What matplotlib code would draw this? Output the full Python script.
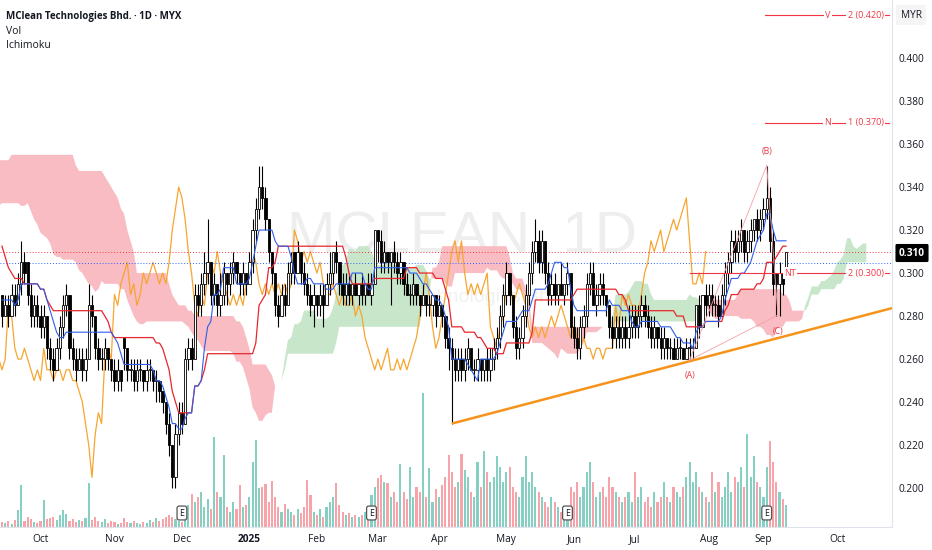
import numpy as np
import matplotlib
matplotlib.use("Agg")
import matplotlib.pyplot as plt
from matplotlib.transforms import blended_transform_factory

plt.rcParams['font.family'] = ['Open Sans', 'DejaVu Sans']

# ---------------- data (prices in thousandths of MYR) ----------------
# bars before the visible window (only highs / lows are needed for the Ichimoku cloud)
pre_high = [320, 315, 310, 305, 300, 295, 300, 305, 310, 315, 320, 325, 320, 315, 320, 325, 330, 325, 320, 325, 330,
            340, 355, 370, 390, 410, 430, 415, 400, 390, 380,
            370, 375, 390, 405, 420, 415,
            410, 405, 400, 395, 390, 385, 380, 375,
            370,
            345, 330, 320, 315, 310, 315, 310, 305, 310,
            350, 340, 330, 325, 320, 315, 320,
            315, 315, 310, 315, 310, 305, 310, 315, 310, 305,
            300, 300, 295, 300, 295, 290, 295, 290]
pre_low = [300, 295, 290, 285, 280, 280, 275, 285, 290, 295, 300, 305, 300, 295, 300, 305, 310, 305, 300, 305, 310,
           320, 335, 350, 365, 385, 400, 390, 375, 365, 355,
           350, 355, 365, 380, 395, 385,
           380, 370, 365, 360, 355, 350, 345, 340,
           340,
           320, 295, 290, 285, 280, 285, 280, 280, 285,
           325, 315, 305, 300, 300, 295, 300,
           300, 300, 295, 300, 295, 290, 295, 300, 295, 290,
           285, 285, 280, 285, 280, 280, 280, 275]

opens = [290, 280, 285, 280, 290, 285, 295, 305, 305, 290,
         280, 285, 280, 275, 280, 265, 260, 255, 265, 275,
         285, 290, 265, 260, 255, 260, 255, 260, 285, 280,
         265, 260, 260, 265, 260, 255, 250, 255, 270, 265,
         255, 255, 250, 255, 255, 250, 255, 255, 250, 250,
         245, 240, 230, 220, 205, 225, 235, 230, 260, 265,
         260, 290, 285, 295, 300, 305, 290, 295, 285, 290,
         300, 295, 300, 305, 300, 295, 300, 295, 305, 320,
         330, 340, 335, 325, 310, 300, 285, 280, 290, 285,
         300, 310, 300, 310, 300, 295, 290, 285, 290, 285,
         290, 285, 295, 300, 310, 305, 295, 290, 295, 290,
         295, 290, 295, 290, 295, 290, 295, 320, 315, 305,
         310, 305, 310, 305, 300, 305, 295, 290, 290, 295,
         290, 285, 290, 285, 285, 290, 280, 285, 280, 270,
         265, 260, 255, 260, 255, 260, 265, 255, 255, 260,
         255, 260, 255, 260, 265, 270, 280, 290, 300, 290,
         275, 265, 270, 280, 290, 300, 310, 315, 305, 315,
         300, 290, 295, 290, 295, 290, 295, 300, 275, 270,
         265, 275, 280, 295, 300, 285, 290, 295, 290, 285,
         275, 270, 275, 270, 275, 270, 275, 280, 275, 280,
         285, 280, 275, 270, 275, 270, 265, 270, 265, 265,
         260, 265, 265, 260, 265, 265, 265, 285, 275, 290,
         285, 290, 285, 285, 280, 290, 300, 305, 315, 310,
         315, 320, 310, 315, 320, 325, 320, 325, 330, 335,
         315, 300, 295, 300, 300]
highs = [290, 290, 290, 295, 295, 300, 315, 310, 305, 295,
         290, 290, 285, 285, 280, 270, 265, 270, 280, 290,
         295, 290, 270, 265, 265, 265, 265, 295, 290, 280,
         270, 265, 270, 265, 260, 260, 260, 255, 270, 265,
         260, 260, 260, 260, 255, 260, 260, 255, 255, 250,
         245, 240, 235, 220, 230, 240, 240, 265, 270, 270,
         295, 295, 300, 310, 325, 305, 300, 295, 300, 305,
         300, 305, 310, 305, 300, 305, 300, 310, 325, 335,
         350, 350, 340, 325, 310, 300, 290, 295, 295, 305,
         310, 310, 315, 310, 305, 300, 295, 295, 290, 295,
         295, 300, 310, 310, 315, 305, 300, 300, 300, 295,
         300, 295, 300, 295, 300, 300, 320, 320, 320, 315,
         310, 310, 315, 310, 310, 305, 300, 295, 300, 295,
         290, 295, 290, 290, 290, 290, 290, 285, 280, 275,
         270, 265, 265, 265, 265, 270, 265, 260, 265, 260,
         260, 265, 265, 270, 275, 285, 295, 305, 300, 290,
         280, 275, 285, 295, 305, 315, 325, 320, 320, 315,
         305, 300, 300, 295, 305, 295, 305, 300, 280, 275,
         280, 285, 300, 305, 305, 295, 300, 300, 290, 285,
         280, 280, 280, 280, 280, 285, 285, 285, 285, 290,
         290, 285, 280, 280, 275, 275, 275, 270, 270, 270,
         270, 270, 265, 270, 270, 270, 285, 290, 290, 295,
         295, 295, 290, 290, 295, 305, 310, 320, 320, 320,
         325, 320, 320, 325, 325, 330, 330, 335, 350, 340,
         320, 300, 305, 300, 310]
lows = [275, 280, 275, 280, 280, 285, 290, 295, 285, 275,
        275, 275, 270, 270, 260, 255, 250, 255, 260, 270,
        280, 260, 255, 250, 255, 250, 250, 260, 275, 260,
        255, 255, 255, 255, 250, 245, 245, 245, 255, 250,
        250, 245, 245, 250, 245, 245, 250, 245, 240, 240,
        235, 225, 215, 200, 200, 220, 225, 230, 255, 255,
        260, 280, 280, 290, 295, 285, 285, 280, 280, 285,
        285, 290, 295, 295, 290, 290, 290, 295, 300, 315,
        325, 330, 320, 305, 295, 280, 275, 280, 280, 285,
        295, 295, 300, 295, 290, 285, 280, 275, 280, 280,
        275, 285, 290, 295, 300, 290, 285, 285, 285, 285,
        290, 285, 285, 285, 290, 285, 295, 305, 300, 300,
        300, 285, 300, 295, 295, 290, 290, 285, 285, 285,
        280, 285, 280, 280, 280, 275, 280, 275, 265, 255,
        230, 250, 250, 250, 250, 255, 255, 250, 250, 250,
        250, 250, 250, 255, 260, 265, 275, 285, 285, 270,
        260, 260, 265, 275, 285, 295, 305, 300, 300, 295,
        285, 285, 285, 285, 290, 285, 290, 270, 265, 260,
        260, 270, 275, 290, 285, 280, 285, 285, 280, 270,
        265, 265, 265, 265, 265, 265, 270, 270, 270, 275,
        275, 270, 265, 265, 265, 260, 260, 260, 260, 260,
        260, 260, 260, 260, 260, 260, 265, 270, 275, 280,
        280, 280, 280, 275, 280, 285, 295, 300, 305, 305,
        310, 305, 305, 310, 315, 315, 315, 320, 325, 310,
        290, 280, 280, 290, 300]
closes = [280, 285, 280, 290, 285, 295, 305, 300, 290, 280,
          285, 280, 275, 280, 265, 260, 255, 265, 275, 285,
          290, 265, 260, 255, 260, 255, 260, 285, 280, 265,
          260, 260, 265, 260, 255, 250, 255, 250, 265, 255,
          255, 250, 255, 255, 250, 255, 255, 250, 250, 245,
          240, 230, 220, 205, 225, 235, 230, 260, 265, 260,
          290, 285, 295, 300, 305, 290, 295, 285, 290, 300,
          295, 300, 305, 300, 295, 300, 295, 305, 320, 330,
          340, 335, 325, 310, 300, 285, 280, 290, 285, 300,
          305, 300, 310, 300, 295, 290, 285, 290, 285, 290,
          285, 295, 300, 310, 305, 295, 290, 295, 290, 295,
          290, 295, 290, 295, 290, 295, 320, 315, 305, 310,
          305, 310, 305, 300, 305, 295, 290, 290, 295, 290,
          285, 290, 285, 285, 290, 280, 285, 280, 270, 265,
          260, 255, 260, 255, 260, 265, 255, 255, 260, 255,
          260, 255, 260, 265, 270, 280, 290, 300, 290, 275,
          265, 270, 280, 290, 300, 310, 315, 305, 315, 300,
          290, 295, 290, 295, 290, 295, 300, 275, 270, 265,
          275, 280, 295, 300, 285, 290, 295, 290, 285, 275,
          270, 275, 270, 275, 270, 275, 280, 275, 280, 285,
          280, 275, 270, 275, 270, 265, 270, 265, 265, 260,
          265, 265, 260, 265, 265, 265, 285, 275, 290, 285,
          290, 285, 285, 280, 290, 300, 305, 315, 310, 315,
          320, 310, 315, 320, 325, 320, 325, 330, 335, 315,
          295, 295, 300, 295, 310]
volumes = [5, 4, 6, 3, 7, 17, 42, 6, 10, 8,
           5, 4, 6, 27, 8, 9, 10, 7, 12, 17,
           13, 6, 8, 5, 7, 6, 9, 44, 7, 10,
           6, 5, 8, 4, 6, 5, 3, 4, 9, 5,
           4, 6, 4, 3, 5, 4, 7, 5, 9, 6,
           8, 10, 12, 10, 8, 6, 5, 15, 22, 33,
           25, 30, 35, 20, 28, 18, 89, 35, 30, 71,
           20, 15, 25, 18, 42, 20, 22, 30, 65, 86,
           39, 40, 43, 25, 46, 30, 20, 15, 23, 18,
           15, 12, 18, 14, 20, 47, 32, 15, 12, 18,
           10, 20, 25, 30, 44, 22, 15, 12, 14, 10,
           12, 10, 12, 15, 18, 32, 40, 49, 52, 45,
           44, 30, 35, 25, 63, 35, 28, 60, 30, 40,
           35, 133, 30, 59, 25, 38, 30, 42, 50, 71,
           55, 40, 45, 72, 57, 50, 35, 30, 65, 40,
           75, 55, 45, 50, 70, 60, 45, 55, 60, 40,
           35, 30, 50, 70, 45, 55, 40, 35, 30, 25,
           20, 30, 25, 20, 15, 12, 18, 40, 35, 45,
           30, 40, 55, 65, 45, 30, 35, 40, 30, 50,
           40, 35, 30, 25, 30, 35, 25, 55, 30, 40,
           25, 30, 20, 35, 25, 30, 45, 30, 25, 40,
           35, 30, 40, 50, 65, 45, 55, 40, 35, 30,
           25, 55, 35, 45, 30, 40, 55, 35, 50, 45,
           60, 40, 92, 50, 70, 45, 40, 30, 60, 85,
           65, 45, 35, 28, 22]

month_pos = [12, 35, 56, 77, 98, 117, 136, 157, 178, 197, 220, 237, 260]
month_labels = ['Oct', 'Nov', 'Dec', '2025', 'Feb', 'Mar', 'Apr', 'May', 'Jun', 'Jul', 'Aug', 'Sep', 'Oct']
earnings_pos = [56, 115, 176, 238]
price_ticks = [0.200, 0.220, 0.240, 0.260, 0.280, 0.300, 0.320, 0.340, 0.360, 0.380, 0.400]

target_levels = [0.420, 0.370, 0.300]
target_start = [237.5, 237.5, 214.0]
target_tags = ['V', 'N', 'NT']
target_tag_x = [257.0, 257.0, 245.3]
target_texts = ['2 (0.420)', '1 (0.370)', '2 (0.300)']
target_text_x = 268.8

wave_labels = ['(A)', '(B)', '(C)']
wave_x = [214.0, 238.0, 241.5]
wave_price = [0.2595, 0.350, 0.2805]
wave_label_price = [0.2525, 0.3567, 0.2727]

trend_x = [140.0, 214.0]
trend_price = [0.2300, 0.2590]

last_price = 0.310
blue_dotted = 0.3047

# ---------------- figure ----------------
W, Hpx = 932, 550
fig = plt.figure(figsize=(W / 100, Hpx / 100), dpi=100)
fig.patch.set_facecolor('white')
ax = fig.add_axes([0, 23 / Hpx, 892 / W, 527 / Hpx])
axv = ax.twinx()
ax.set_zorder(axv.get_zorder() + 1)
ax.patch.set_visible(False)

O = np.array(opens) / 1000
Hh = np.array(highs) / 1000
Ll = np.array(lows) / 1000
C = np.array(closes) / 1000
V = np.array(volumes, dtype=float)
n = len(C)
assert len(O) == len(Hh) == len(Ll) == len(V) == n, (len(O), len(Hh), len(Ll), len(V), n)
x = np.arange(n)

XMIN, XMAX = -0.62, 277.0
YMIN, YMAX = 0.1819, 0.4270

# Ichimoku from data
npre = len(pre_high)
Hf = np.concatenate([np.array(pre_high) / 1000, Hh])
Lf = np.concatenate([np.array(pre_low) / 1000, Ll])


def midline(period):
    out = np.full(len(Hf), np.nan)
    for k in range(period - 1, len(Hf)):
        out[k] = (Hf[k - period + 1:k + 1].max() + Lf[k - period + 1:k + 1].min()) / 2
    return out


tenkan = midline(9)
kijun = midline(26)
spanB = midline(52)
spanA = (tenkan + kijun) / 2
xf = np.arange(len(Hf)) - npre
disp = 25

valid = ~np.isnan(spanB)
xs = xf[valid] + disp
sa = spanA[valid]
sb = spanB[valid]
ax.fill_between(xs, sa, sb, where=sa >= sb, interpolate=True, color='#c8e6c9', lw=0, zorder=1)
ax.fill_between(xs, sa, sb, where=sa < sb, interpolate=True, color='#f8bcc2', lw=0, zorder=1)

vis = xf >= 0
ax.plot(x - disp, C, color='#f7a531', lw=0.9, zorder=2)
ax.plot(xf[vis], kijun[vis], color='#e8262e', lw=0.9, zorder=5)
ax.plot(xf[vis], tenkan[vis], color='#2f5fe8', lw=0.8, zorder=5)

# dotted price lines
ax.axhline(last_price, color='#f23645', lw=0.7, ls=(0, (1, 2)), zorder=2)
ax.axhline(blue_dotted, color='#2962ff', lw=0.7, ls=(0, (1, 2)), zorder=2)

# candles
up = C >= O
ax.vlines(x, Ll, Hh, color='black', lw=0.8, zorder=3)
body_bottom = np.minimum(O, C)
body_h = np.maximum(np.abs(C - O), 0.0004)
ax.bar(x, body_h, bottom=body_bottom, width=0.72,
       color=np.where(up, 'white', 'black'), edgecolor='black', linewidth=0.6, zorder=4)

# volume
vol_colors = np.where(up, '#86cfc3', '#f7a3aa')
axv.bar(x, V, width=0.66, color=vol_colors, zorder=1)
axv.set_ylim(0, V.max() * 527 / 134)
axv.axis('off')

# trend line (orange) extended to the right edge
slope = (trend_price[1] - trend_price[0]) / (trend_x[1] - trend_x[0])
ax.plot([trend_x[0], XMAX], [trend_price[0], trend_price[0] + slope * (XMAX - trend_x[0])],
        color='#f7931a', lw=1.8, zorder=6, solid_capstyle='butt')

# ABC pattern lines
pink = '#f6a0a8'
ax.plot([wave_x[0], wave_x[1]], [wave_price[0], wave_price[1]], color=pink, lw=0.6, zorder=6)
ax.plot([wave_x[1], wave_x[2]], [wave_price[1], wave_price[2]], color=pink, lw=0.6, zorder=6)
ax.plot([wave_x[0], wave_x[2]], [wave_price[0], wave_price[2]], color=pink, lw=0.6, zorder=6)
for lab, wx, wp in zip(wave_labels, wave_x, wave_label_price):
    ax.text(wx, wp, lab, color='#e8394a', fontsize=6.3, ha='center', va='center', zorder=7)

# target level lines
red = '#f23645'
for lvl, st, tag, tx, txt in zip(target_levels, target_start, target_tags, target_tag_x, target_texts):
    ax.plot([st, XMAX - 0.8], [lvl, lvl], color=red, lw=0.8, zorder=6, clip_on=False)
    ax.text(tx, lvl, tag, color=red, fontsize=6.5, ha='center', va='center', zorder=7,
            bbox=dict(boxstyle='square,pad=0.15', fc='white', ec='none'))
    ax.text(target_text_x, lvl, txt, color=red, fontsize=6.5, ha='center', va='center', zorder=7,
            bbox=dict(boxstyle='square,pad=0.15', fc='white', ec='none'))

# earnings markers
tr = blended_transform_factory(ax.transData, ax.transAxes)
for ep in earnings_pos:
    ax.text(ep, (527 - 513) / 527, 'E', transform=tr, fontsize=6.3, ha='center', va='center',
            color='#131722', zorder=8,
            bbox=dict(boxstyle='round,pad=0.28,rounding_size=0.25', fc='white', ec='#555555', lw=0.9))

# axes styling
ax.set_xlim(XMIN, XMAX)
ax.set_ylim(YMIN, YMAX)
axv.set_xlim(XMIN, XMAX)
for s in ['top', 'left']:
    ax.spines[s].set_visible(False)
ax.spines['right'].set_color('#e0e3eb')
ax.spines['bottom'].set_color('#e0e3eb')
ax.yaxis.tick_right()
ax.set_yticks(price_ticks)
ax.set_yticklabels([f'{v:.3f}' for v in price_ticks])
ax.tick_params(axis='y', length=0, pad=4.5, labelsize=7.3, labelcolor='#131722')
ax.set_xticks(month_pos)
ax.set_xticklabels(month_labels)
ax.tick_params(axis='x', length=0, pad=5, labelsize=7.3, labelcolor='#131722')
for lbl in ax.get_xticklabels():
    if lbl.get_text() == '2025':
        lbl.set_fontweight('bold')

# watermark (behind everything)
axv.text(462 / W, 1 - 237 / Hpx, 'MCLEAN, 1D', transform=fig.transFigure, fontsize=42,
         family=['Liberation Sans', 'DejaVu Sans'], color='#eeeeee', ha='center', va='center', zorder=0)
axv.text(450 / W, 1 - 298 / Hpx, 'MClean Technologies Bhd.', transform=fig.transFigure, fontsize=14,
         family=['Liberation Sans', 'DejaVu Sans'], color='#f1f1f1', ha='center', va='center', zorder=0)

# header texts
fig.text(6 / W, 1 - 17 / Hpx, 'MClean Technologies Bhd. · 1D · MYX', fontsize=7.0, fontweight='bold',
         color='#131722', va='center', ha='left')
fig.text(6 / W, 1 - 31 / Hpx, 'Vol', fontsize=7.5, color='#131722', va='center', ha='left')
fig.text(6 / W, 1 - 45 / Hpx, 'Ichimoku', fontsize=7.5, color='#131722', va='center', ha='left')

# right-side labels
fig.text(911 / W, 1 - 15 / Hpx, 'MYR', fontsize=7.3, color='#131722', va='center', ha='center',
         bbox=dict(boxstyle='square,pad=0.45', fc='#f5f5f5', ec='none'))
fig.text(912 / W, 1 - 253 / Hpx, f'{last_price:.3f}', fontsize=7.3, fontweight='bold', color='white',
         va='center', ha='center', bbox=dict(boxstyle='round,pad=0.35,rounding_size=0.15', fc='black', ec='none'))

fig.savefig('out.png', dpi=100)
